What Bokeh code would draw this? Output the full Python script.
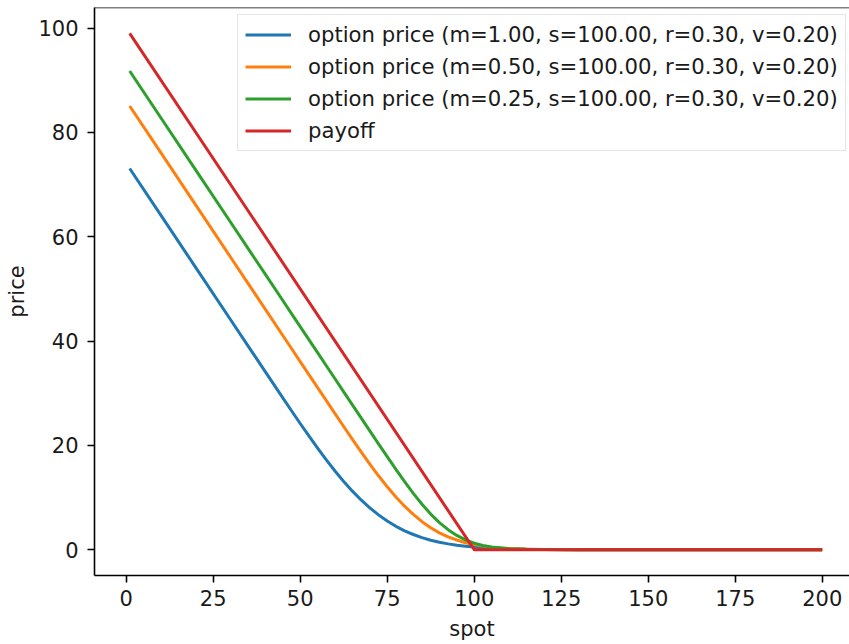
from bokeh.plotting import figure
from bokeh.models import Range1d, FixedTicker, Span, Legend, LegendItem
from bokeh.embed import file_html
from bokeh.resources import INLINE

spot = [1, 10, 20, 30, 35, 40, 45, 47.5, 50, 52.5, 55, 57.5, 60, 62.5, 65, 67.5, 70, 72.5,
        75, 77.5, 80, 82.5, 85, 87.5, 90, 92.5, 95, 97.5, 100, 102.5, 105, 110, 115, 120,
        130, 150, 200]
price_m100 = [73.08, 64.08, 54.08, 44.08, 39.08, 34.09, 29.11, 26.63, 24.19, 21.80,
              19.46, 17.22, 15.08, 13.07, 11.22, 9.53, 8.01, 6.67, 5.49, 4.48,
              3.62, 2.91, 2.31, 1.82, 1.43, 1.11, 0.85, 0.67, 0.51, 0.38,
              0.29, 0.17, 0.09, 0.05, 0.01, 0.0, 0.0]
price_m050 = [85.07, 76.07, 66.07, 56.07, 51.07, 46.07, 41.07, 38.57, 36.07, 33.57,
              31.07, 28.58, 26.09, 23.62, 21.16, 18.75, 16.42, 14.17, 12.07, 10.09,
              8.34, 6.77, 5.37, 4.20, 3.23, 2.46, 1.85, 1.34, 0.98, 0.68,
              0.48, 0.23, 0.10, 0.05, 0.01, 0.0, 0.0]
price_m025 = [91.77, 82.77, 72.77, 62.77, 57.77, 52.77, 47.77, 45.27, 42.77, 40.27,
              37.77, 35.27, 32.77, 30.27, 27.77, 25.28, 22.78, 20.29, 17.83, 15.40,
              13.04, 10.79, 8.71, 6.83, 5.19, 3.83, 2.73, 1.88, 1.26, 0.81,
              0.51, 0.19, 0.06, 0.02, 0.0, 0.0, 0.0]
payoff_spot = [1, 100, 200]
payoff = [99, 0, 0]

labels = ["option price (m=1.00, s=100.00, r=0.30, v=0.20)",
          "option price (m=0.50, s=100.00, r=0.30, v=0.20)",
          "option price (m=0.25, s=100.00, r=0.30, v=0.20)",
          "payoff"]
colors = ["#1f77b4", "#ff7f0e", "#2ca02c", "#d62728"]
x_ticks = [0, 25, 50, 75, 100, 125, 150, 175, 200]
y_ticks = [0, 20, 40, 60, 80, 100]

FONT = "DejaVu Sans"
FS = "21px"
TXT = "#1a1a1a"
Y_END = 103.95

p = figure(width=849, height=644, output_backend="svg", toolbar_location=None,
           x_range=Range1d(-9.11, 207.84), y_range=Range1d(-4.95, Y_END),
           min_border_left=94, min_border_right=0, min_border_top=7, min_border_bottom=69)
p.outline_line_color = None
p.grid.visible = False
p.background_fill_color = "white"
p.border_fill_color = "white"

series = [(spot, price_m100), (spot, price_m050), (spot, price_m025), (payoff_spot, payoff)]
renderers = [p.line(xs, ys, line_color=c, line_width=3, line_join="round")
             for (xs, ys), c in zip(series, colors)]

for ax, ticks, lab in ((p.xaxis[0], x_ticks, "spot"), (p.yaxis[0], y_ticks, "price")):
    ax.ticker = FixedTicker(ticks=ticks)
    ax.minor_tick_line_color = None
    ax.major_tick_in = 0
    ax.major_tick_out = 7
    ax.major_tick_line_width = 1.6
    ax.axis_line_width = 1.6
    ax.axis_line_color = "black"
    ax.major_tick_line_color = "black"
    ax.major_label_text_font = FONT
    ax.major_label_text_font_size = FS
    ax.major_label_text_color = TXT
    ax.axis_label = lab
    ax.axis_label_text_font = FONT
    ax.axis_label_text_font_size = FS
    ax.axis_label_text_font_style = "normal"
    ax.axis_label_text_color = TXT
p.xaxis[0].major_label_standoff = 7
p.yaxis[0].major_label_standoff = 9
p.xaxis[0].axis_label_standoff = 8
p.yaxis[0].axis_label_standoff = 6

top_spine = Span(location=Y_END, dimension="width", line_color="black", line_width=1.6)
p.add_layout(top_spine)

legend = Legend(items=[LegendItem(label=labels[i], renderers=[r]) for i, r in enumerate(renderers)],
                location=(143, 424))
legend.label_text_font = FONT
legend.label_text_font_size = "21.2px"
legend.label_text_color = TXT
legend.glyph_width = 46
legend.glyph_height = 25
legend.label_height = 25
legend.label_standoff = 17
legend.spacing = 7
legend.padding = 7
legend.margin = 0
legend.border_line_color = "#cccccc"
legend.border_line_width = 1.2
legend.background_fill_alpha = 0.8
p.add_layout(legend, "center")

open("out.html", "w").write(file_html(p, INLINE))
